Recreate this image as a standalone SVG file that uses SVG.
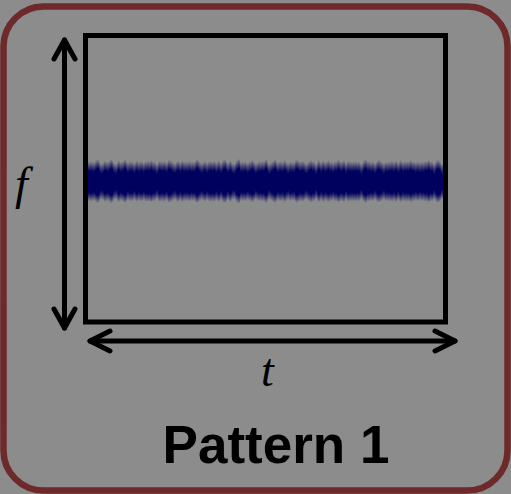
<svg xmlns="http://www.w3.org/2000/svg" width="511" height="494" viewBox="0 0 511 494">
<defs>
<style>
.ax{fill:none;stroke:#000;stroke-width:5;stroke-linecap:round;stroke-linejoin:round}
.lbl{font-family:"Liberation Serif",serif;font-style:italic;font-size:46px;fill:#000}
.ttl{font-family:"Liberation Sans",Arial,sans-serif;font-weight:bold;font-size:53px;fill:#000}
</style>
<linearGradient id="bg" x1="0" y1="156" x2="0" y2="206" gradientUnits="userSpaceOnUse">
<stop offset="0" stop-color="#06065e" stop-opacity="0"/>
<stop offset="0.28" stop-color="#06065e" stop-opacity="0.8"/>
<stop offset="0.38" stop-color="#06065e" stop-opacity="1"/>
<stop offset="0.66" stop-color="#06065e" stop-opacity="1"/>
<stop offset="0.76" stop-color="#06065e" stop-opacity="0.8"/>
<stop offset="1" stop-color="#06065e" stop-opacity="0"/>
</linearGradient>
<filter id="nz" filterUnits="userSpaceOnUse" x="88" y="150" width="355" height="62">
<feTurbulence type="fractalNoise" baseFrequency="0.22 0" numOctaves="2" seed="3" result="t"/>
<feComposite in="SourceAlpha" in2="t" operator="arithmetic" k1="0" k2="1.8" k3="1.0" k4="-1.05" result="m"/>
<feGaussianBlur in="m" stdDeviation="0.6" result="mb"/>
<feFlood flood-color="#06065e" result="c"/>
<feComposite in="c" in2="mb" operator="in"/>
</filter>
</defs>
<rect width="511" height="494" fill="#8c8c8c"/>
<g id="frame">
<rect x="3.5" y="6.5" width="504" height="484" rx="40" ry="40" fill="#8c8c8c" stroke="#6e2a2a" stroke-width="6.5"/>
</g>
<g id="plot">
<rect x="88" y="156" width="355" height="50" fill="url(#bg)" filter="url(#nz)"/>
<rect x="85.5" y="35.5" width="360" height="286.5" fill="none" stroke="#000" stroke-width="5"/>
</g>
<g id="connectors">
<path class="ax" d="M64.5 40 V328"/>
<path class="ax" d="M54 59 L64.5 40 L75 59"/>
<path class="ax" d="M54 309 L64.5 328 L75 309"/>
<path class="ax" d="M90 341 H455"/>
<path class="ax" d="M110 331 L90 341 L110 351"/>
<path class="ax" d="M435 331 L455 341 L435 351"/>
</g>
<g id="labels">
<text class="lbl" x="15" y="199">f</text>
<text class="lbl" x="261" y="386">t</text>
<text class="ttl" x="276" y="463" text-anchor="middle">Pattern 1</text>
</g>
</svg>
